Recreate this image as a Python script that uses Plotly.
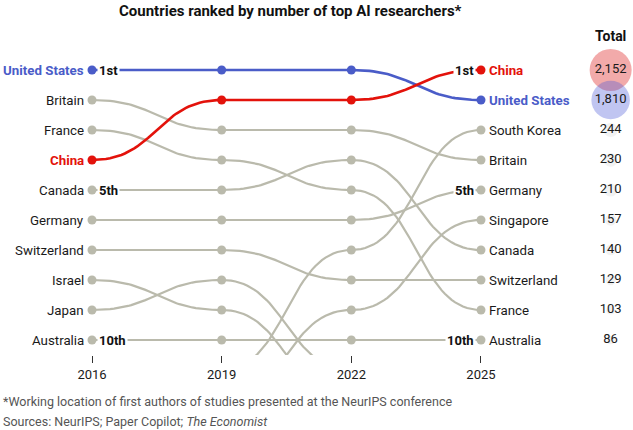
import numpy as np
import plotly.graph_objects as go

# ---------------- data ----------------
years = [2016, 2019, 2022, 2025]
countries = ["Britain", "France", "Canada", "Germany", "Switzerland", "Israel",
             "Japan", "Australia", "South Korea", "Singapore", "United States", "China"]
rank_2016 = [2, 3, 5, 6, 7, 8, 9, 10, None, None, 1, 4]
rank_2019 = [3, 4, 5, 6, 7, 9, 8, 10, 11, 12, 1, 2]
rank_2022 = [3, 5, 4, 6, 8, 12, 11, 10, 7, 9, 1, 2]
rank_2025 = [4, 9, 7, 5, 8, None, None, 10, 3, 6, 2, 1]

total_countries = ["China", "United States", "South Korea", "Britain", "Germany",
                   "Singapore", "Canada", "Switzerland", "France", "Australia"]
totals_2025 = [2152, 1810, 244, 230, 210, 157, 140, 129, 103, 86]

rank_badges = ["1st", "5th", "10th"]
badge_ranks = [1, 5, 10]

title = "Countries ranked by number of top AI researchers*"
note = "*Working location of first authors of studies presented at the NeurIPS conference"
source = "Sources: NeurIPS; Paper Copilot; <i>The Economist</i>"

# ---------------- styles ----------------
GREY = "rgb(186,186,172)"
BLUE = "#4a5cc8"
RED = "#e3120b"
TXT = "#1a1a1a"
FONT = "Roboto, Arial, sans-serif"
special = {"United States": BLUE, "China": RED}

X0 = 2016 - 92 / 43.22
X1 = X0 + 633 / 43.22


def bump(x0, y0, x1, y1, n=40):
    u = np.linspace(0, 1, n)
    xm = (x0 + x1) / 2
    x = (1 - u) ** 3 * x0 + 3 * (1 - u) ** 2 * u * xm + 3 * (1 - u) * u ** 2 * xm + u ** 3 * x1
    y = (1 - u) ** 3 * y0 + 3 * (1 - u) ** 2 * u * y0 + 3 * (1 - u) * u ** 2 * y1 + u ** 3 * y1
    return list(x), list(y)


fig = go.Figure()
all_ranks = list(zip(rank_2016, rank_2019, rank_2022, rank_2025))

for name, rk in zip(countries, all_ranks):
    color = special.get(name, GREY)
    xs, ys = [], []
    for i in range(3):
        if rk[i] is None or rk[i + 1] is None:
            continue
        bx, by = bump(years[i], rk[i], years[i + 1], rk[i + 1])
        xs += bx + [None]
        ys += by + [None]
    fig.add_trace(go.Scatter(x=xs, y=ys, mode="lines",
                             line=dict(color=color, width=2.6 if name in special else 2.2),
                             hoverinfo="skip", showlegend=False))
    mx = [y for y, r in zip(years, rk) if r is not None and r <= 10]
    my = [r for r in rk if r is not None and r <= 10]
    fig.add_trace(go.Scatter(x=mx, y=my, mode="markers",
                             marker=dict(color=color, size=9), cliponaxis=False,
                             hoverinfo="skip", showlegend=False))

# totals bubbles
sizes = [42 * np.sqrt(v / totals_2025[0]) for v in totals_2025]
bub_colors = ["rgba(226,60,60,0.62)", "rgba(75,90,215,0.5)"] + ["rgba(215,215,215,0.45)"] * 8
fig.add_trace(go.Scatter(
    x=[2028.0] * len(totals_2025),
    y=[rank_2025[countries.index(c)] for c in total_countries],
    mode="markers+text", text=[f"{v:,}" for v in totals_2025], textposition="middle center",
    textfont=dict(family=FONT, size=13, color=TXT),
    marker=dict(size=sizes, color=bub_colors, line=dict(width=0)),
    cliponaxis=False, hoverinfo="skip", showlegend=False))

ann = []
# left labels (2016)
for name, r in zip(countries, rank_2016):
    if r is None:
        continue
    c = special.get(name)
    ann.append(dict(x=2016, y=r, xref="x", yref="y", xanchor="right", yanchor="middle",
                    xshift=-6, showarrow=False,
                    text=f"<b>{name}</b>" if c else name,
                    font=dict(family=FONT, size=13.3, color=c or TXT)))
# right labels (2025)
for name, r in zip(countries, rank_2025):
    if r is None:
        continue
    c = special.get(name)
    ann.append(dict(x=2025, y=r, xref="x", yref="y", xanchor="left", yanchor="middle",
                    xshift=6, showarrow=False,
                    text=f"<b>{name}</b>" if c else name,
                    font=dict(family=FONT, size=13.3, color=c or TXT)))
# rank badges
for b, r in zip(rank_badges, badge_ranks):
    ann.append(dict(x=2016, y=r, xref="x", yref="y", xanchor="left", yanchor="middle",
                    xshift=5, showarrow=False, text=f"<b>{b}</b>", bgcolor="white",
                    borderpad=1, font=dict(family=FONT, size=13, color="#111")))
    ann.append(dict(x=2025, y=r, xref="x", yref="y", xanchor="right", yanchor="middle",
                    xshift=-5, showarrow=False, text=f"<b>{b}</b>", bgcolor="white",
                    borderpad=1, font=dict(family=FONT, size=13, color="#111")))
# title, header, notes
ann.append(dict(x=290 / 633, y=(355 - 11) / 300, xref="paper", yref="paper", showarrow=False,
                xanchor="center", yanchor="middle", text=f"<b>{title}</b>",
                font=dict(family=FONT, size=15, color="#111")))
ann.append(dict(x=2028.0, y=(355 - 36) / 300, xref="x", yref="paper", showarrow=False,
                xanchor="center", yanchor="middle", text="<b>Total</b>",
                font=dict(family=FONT, size=14, color="#111")))
ann.append(dict(x=0, y=(355 - 401) / 300, xref="paper", yref="paper", showarrow=False,
                xanchor="left", yanchor="middle", xshift=1, text=note,
                font=dict(family=FONT, size=12.5, color="#555")))
ann.append(dict(x=0, y=(355 - 421) / 300, xref="paper", yref="paper", showarrow=False,
                xanchor="left", yanchor="middle", xshift=1, text=source,
                font=dict(family=FONT, size=12.5, color="#555")))

fig.update_layout(
    width=633, height=430, margin=dict(l=0, r=0, t=55, b=75),
    paper_bgcolor="white", plot_bgcolor="white",
    xaxis=dict(range=[X0, X1], tickvals=years, ticks="outside", ticklen=7, tickwidth=1,
               tickcolor="#333", showgrid=False, zeroline=False, showline=False,
               tickfont=dict(family=FONT, size=13, color=TXT), fixedrange=True),
    yaxis=dict(range=[10.5, 0.5], visible=False, fixedrange=True),
    annotations=ann,
)

fig.write_html("out.html")
